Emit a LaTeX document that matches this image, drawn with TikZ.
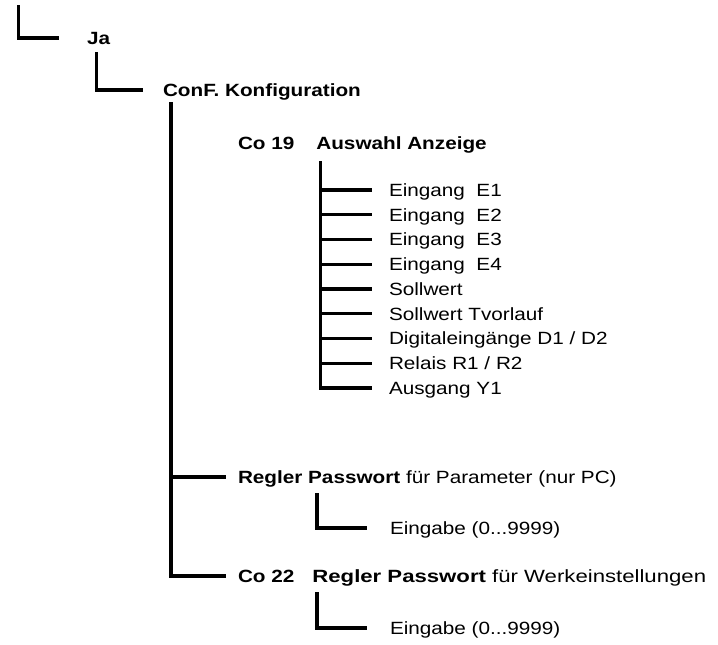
\documentclass[tikz,border=0pt]{standalone}
\usepackage{fontspec}
\setmainfont{Liberation Sans}[FakeStretch=1.17]
\usetikzlibrary{positioning}
\tikzset{
  ast/.style={line width=3.2pt},
  eintrag/.style={anchor=text, inner ysep=0pt, text height=12.7pt, text depth=0pt, font=\fontsize{17.7}{20}\selectfont},
}

\begin{document}
\begin{tikzpicture}[x=1pt, y=-1pt]
        \useasboundingbox (0,0) rectangle (718,645);

        % Level 1: Ja
        \node[eintrag, inner xsep=28pt] (ja) at (87,44.3) {\textbf{Ja}};
        \coordinate (wurzel) at (18.3,5);
        \draw[ast] (wurzel) |- (ja);

        % Level 2: Konfiguration
        \node[eintrag, inner xsep=20pt] (conf) at (163,96.3) {\textbf{ConF. Konfiguration}};
        \coordinate (jastem) at (96.7,52);
        \draw[ast] (jastem) |- (conf);

        % Level 3: Co 19 Auswahl Anzeige
        \node[eintrag] (co19) at (238,149) {\textbf{Co 19\hspace{22pt}Auswahl Anzeige}};
        \node[eintrag, inner xsep=17pt] (e1) at (389,196.35) {Eingang\ \ E1};
        \node[eintrag, inner xsep=17pt] (e2) at (389,221.1) {Eingang\ \ E2};
        \node[eintrag, inner xsep=17pt] (e3) at (389,245.85) {Eingang\ \ E3};
        \node[eintrag, inner xsep=17pt] (e4) at (389,270.6) {Eingang\ \ E4};
        \node[eintrag, inner xsep=17pt] (e5) at (389,295.35) {Sollwert};
        \node[eintrag, inner xsep=17pt] (e6) at (389,320.1) {Sollwert Tvorlauf};
        \node[eintrag, inner xsep=17pt] (e7) at (389,344.85) {Digitaleingänge D1 / D2};
        \node[eintrag, inner xsep=17pt] (e8) at (389,369.6) {Relais R1 / R2};
        \node[eintrag, inner xsep=17pt] (e9) at (389,394.35) {Ausgang Y1};
        \coordinate (co19stem) at (320.5,161);
        \draw[ast] (co19stem) |- (e9);
        \draw[ast] (co19stem |- e1) -- (e1);
        \draw[ast] (co19stem |- e2) -- (e2);
        \draw[ast] (co19stem |- e3) -- (e3);
        \draw[ast] (co19stem |- e4) -- (e4);
        \draw[ast] (co19stem |- e5) -- (e5);
        \draw[ast] (co19stem |- e6) -- (e6);
        \draw[ast] (co19stem |- e7) -- (e7);
        \draw[ast] (co19stem |- e8) -- (e8);

        % Level 3: Passwoerter
        \node[eintrag, inner xsep=12pt] (regler) at (238,483.3) {\textbf{Regler Passwort} für Parameter (nur PC)};
        \node[eintrag, inner xsep=23pt] (eingabeA) at (390,534.3) {Eingabe (0...9999)};
        \node[eintrag, inner xsep=12pt] (co22) at (238,582.3) {\textbf{Co 22}\hspace{18pt}\scalebox{1.07}[1]{\textbf{Regler Passwort} für Werkeinstellungen}};
        \node[eintrag, inner xsep=23pt] (eingabeB) at (390,634.3) {Eingabe (0...9999)};

        % Stems
        \coordinate (confstem) at (171,102);
        \draw[ast] (confstem) |- (co22);
        \draw[ast] (confstem |- regler) -- (regler);
        \coordinate (subA) at (317,493);
        \draw[ast] (subA) |- (eingabeA);
        \coordinate (subB) at (317,592);
        \draw[ast] (subB) |- (eingabeB);
\end{tikzpicture}
\end{document}
